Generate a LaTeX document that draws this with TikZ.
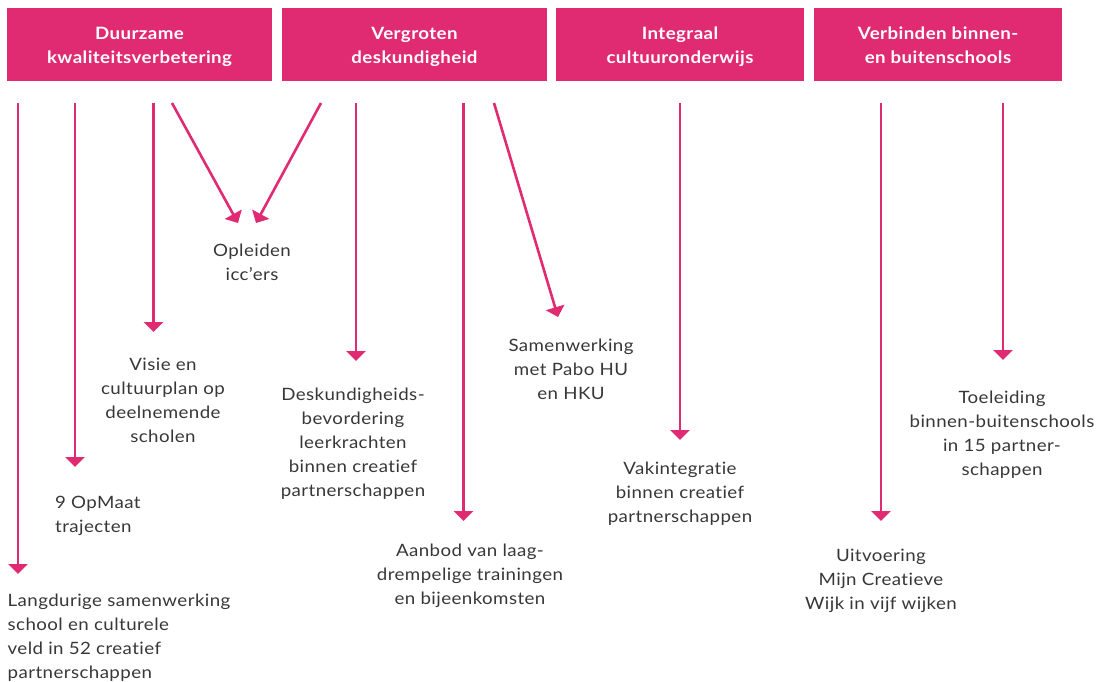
\documentclass[tikz,border=0pt]{standalone}
\usepackage{fontspec}
\setmainfont{Lato}[FakeStretch=1.1,LetterSpace=2.5,Ligatures={NoCommon}]
\usetikzlibrary{arrows.meta}
\definecolor{brandpink}{RGB}{224,42,114}
\definecolor{txtgray}{RGB}{55,55,55}
\tikzset{
  hbox/.style={fill=brandpink, draw=none, inner sep=0pt, minimum height=73pt,
    font=\bfseries\fontsize{17}{24}\selectfont, text=white, align=center},
  lbl/.style={inner sep=0pt, font=\fontsize{17}{24}\selectfont, text=txtgray, align=center, anchor=north},
  lblL/.style={lbl, align=left, anchor=north west},
  arr/.style={draw=brandpink, line width=2.6pt, -{Triangle[width=19pt,length=10pt]}}
}
\newcommand{\myfstrut}{\rule{0pt}{13pt}}
\newcommand{\myhstrut}{\rule{0pt}{16.5pt}}
\newcommand{\mydstrut}{\rule[-3.5pt]{0pt}{3.5pt}}
\begin{document}
\begin{tikzpicture}[x=1pt,y=-1pt]
\useasboundingbox (0,0) rectangle (1098,681);
% header boxes
\node[hbox, minimum width=265pt] (h1) at (139.5,44.5) {\myhstrut Duurzame\\kwaliteitsverbetering\mydstrut};
\node[hbox, minimum width=265pt] (h2) at (414.5,44.5) {\myhstrut Vergroten\\deskundigheid\mydstrut};
\node[hbox, minimum width=248pt] (h3) at (680,44.5) {\myhstrut Integraal\\cultuuronderwijs\mydstrut};
\node[hbox, minimum width=248pt] (h4) at (938,44.5) {\myhstrut Verbinden binnen-\\en buitenschools\mydstrut};
% labels
\node[lbl] (l1) at (252,243) {\myfstrut Opleiden\\icc’ers};
\node[lbl] (l2) at (163,357) {\myfstrut Visie en\\cultuurplan op\\deelnemende\\scholen};
\node[lblL] (l3) at (55,495) {\myfstrut 9 OpMaat\\trajecten};
\node[lblL] (l4) at (7.5,593) {\myfstrut Langdurige samenwerking\\school en culturele\\veld in 52 creatief\\partnerschappen};
\node[lbl] (l5) at (353,387) {\myfstrut Deskundigheids-\\bevordering\\leerkrachten\\binnen creatief\\partnerschappen};
\node[lbl] (l6) at (470,543.5) {\myfstrut Aanbod van laag-\\drempelige trainingen\\en bijeenkomsten};
\node[lbl] (l7) at (571,338) {\myfstrut Samenwerking\\met Pabo HU\\en HKU};
\node[lbl] (l8) at (680,461) {\myfstrut Vakintegratie\\binnen creatief\\partnerschappen};
\node[lbl] (l9) at (881,548.5) {\myfstrut Uitvoering\\Mijn Creatieve\\Wijk in vijf wijken};
\node[lbl] (l10) at (1002,390) {\myfstrut Toeleiding\\binnen-buitenschools\\in 15 partner-\\schappen};
% arrow ends
\coordinate (s1) at (18,103);    \coordinate (e1) at (18,574);
\coordinate (s2) at (75,103);    \coordinate (e2) at (75,467);
\coordinate (s3) at (153.5,103); \coordinate (e3) at (153.5,332);
\coordinate (s4) at (172,103);   \coordinate (e4) at (238,223);
\coordinate (s5) at (321,103);   \coordinate (e5) at (256,223);
\coordinate (s6) at (356,103);   \coordinate (e6) at (356,361);
\coordinate (s7) at (463.5,103); \coordinate (e7) at (463.5,521);
\coordinate (s8) at (494,103);   \coordinate (e8) at (558,317);
\coordinate (s9) at (680,103);   \coordinate (e9) at (680,440);
\coordinate (s10) at (881,103);  \coordinate (e10) at (881,521);
\coordinate (s11) at (1003,103); \coordinate (e11) at (1003,360);
\foreach \i in {1,...,11} { \draw[arr] (s\i) -- (e\i); }
\end{tikzpicture}
\end{document}
